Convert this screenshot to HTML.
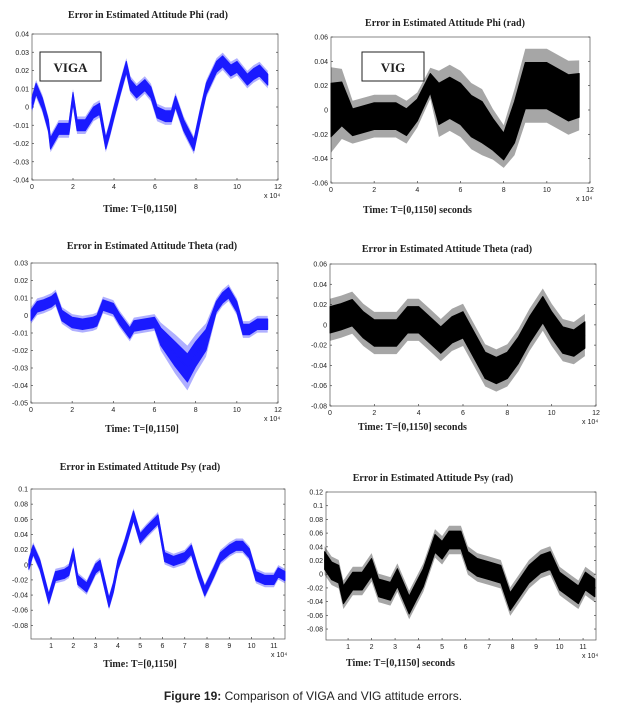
<!DOCTYPE html>
<html><head><meta charset="utf-8">
<style>
body{margin:0;background:#fff;width:627px;height:714px;overflow:hidden;}
svg{display:block;}
.tt{font-family:"Liberation Serif",serif;font-weight:bold;font-size:10px;fill:#222;}
.tk{font-family:"Liberation Sans",sans-serif;font-size:7px;fill:#222;}
.xl{font-family:"Liberation Serif",serif;font-weight:bold;font-size:10px;fill:#222;}
</style></head>
<body>
<svg id="fig" width="627" height="714">
<text x="313" y="700" text-anchor="middle" style="font-family:'Liberation Sans',sans-serif;font-size:12px;fill:#222"><tspan font-weight="bold">Figure 19:</tspan> Comparison of VIGA and VIG attitude errors.</text>
</svg>
<script>
// Panel 1: Phi VIGA
const p1X=[0,0.2,0.5,0.8,0.9,1.3,1.8,2.0,2.2,2.6,3.0,3.3,3.6,3.8,4.0,4.3,4.6,4.8,5.1,5.5,5.8,6.1,6.5,6.8,7.0,7.4,7.9,8.2,8.5,9.0,9.3,9.7,10.0,10.5,10.8,11.1,11.5];
const p1Y=[0.002,0.010,0.002,-0.010,-0.020,-0.012,-0.012,0.005,-0.010,-0.010,-0.003,-0.001,-0.020,-0.012,-0.003,0.010,0.022,0.012,0.008,0.012,0.008,-0.003,-0.005,-0.005,0.003,-0.010,-0.021,-0.005,0.010,0.022,0.025,0.020,0.022,0.015,0.018,0.020,0.015];
const p1A=[0.003];
// Panel 2: Phi VIG
const p2X=[0,0.5,1,2,3,3.5,4,4.6,5,5.5,6,6.5,7,7.5,8,8.5,9,10,11,11.5];
const p2Y=[0.0,0.005,-0.01,-0.005,-0.005,-0.01,0.0,0.022,0.005,0.01,0.005,-0.005,-0.01,-0.02,-0.03,-0.01,0.02,0.02,0.01,0.012];
const p2A=[0.022,0.018,0.011,0.011,0.011,0.011,0.009,0.008,0.017,0.017,0.017,0.017,0.017,0.013,0.011,0.017,0.019,0.019,0.019,0.018];
// Panel 3: Theta VIGA
const p3X=[0,0.3,0.6,1.0,1.2,1.5,2,2.5,3,3.2,3.5,4,4.3,4.8,5,5.5,6,6.3,7,7.6,8,8.5,9,9.3,9.6,10,10.3,10.6,11,11.5];
const p3Y=[0.0,0.005,0.006,0.008,0.01,0.0,-0.004,-0.005,-0.004,-0.003,0.006,0.004,-0.002,-0.01,-0.006,-0.005,-0.004,-0.012,-0.022,-0.03,-0.022,-0.014,0.005,0.01,0.013,0.005,-0.008,-0.008,-0.005,-0.005];
const p3A=[0.003,0.003,0.003,0.003,0.003,0.003,0.003,0.003,0.003,0.003,0.003,0.003,0.003,0.003,0.003,0.003,0.003,0.005,0.007,0.008,0.007,0.006,0.003,0.003,0.003,0.003,0.003,0.003,0.003,0.003];
// Panel 4: Theta VIG
const p4X=[0,0.5,1,1.5,2,3,3.5,4,4.5,5,5.5,6,6.5,7,7.5,8,8.5,9,9.6,10,10.5,11,11.5];
const p4Y=[0.005,0.008,0.012,0.0,-0.008,-0.008,0.005,0.005,-0.005,-0.015,-0.005,0.0,-0.02,-0.04,-0.045,-0.04,-0.025,-0.005,0.015,0.0,-0.015,-0.018,-0.01];
const p4A=[0.013];
// Panel 5: Psy VIGA
const p5X=[0,0.2,0.5,0.9,1.2,1.6,1.8,2.0,2.2,2.6,3.0,3.2,3.6,3.8,4.0,4.3,4.7,5.0,5.3,5.8,6.1,6.5,7.0,7.3,7.6,7.9,8.3,8.6,9.0,9.3,9.6,9.9,10.2,10.6,11,11.2,11.5];
const p5Y=[0.0,0.02,0.0,-0.045,-0.015,-0.012,-0.008,0.015,-0.02,-0.03,-0.005,0.0,-0.05,-0.03,0.0,0.025,0.065,0.035,0.045,0.06,0.01,0.005,0.01,0.02,-0.01,-0.035,-0.01,0.01,0.02,0.025,0.025,0.015,-0.015,-0.02,-0.02,-0.01,-0.015];
const p5A=[0.006];
// Panel 6: Psy VIG
const p6X=[0,0.3,0.6,0.8,1.2,1.6,2.0,2.3,2.8,3.1,3.6,3.9,4.2,4.7,5.0,5.3,5.8,6.1,6.5,7,7.5,7.9,8.3,8.7,9.2,9.6,10,10.4,10.8,11.1,11.5];
const p6Y=[0.02,0.005,0.0,-0.03,-0.01,-0.01,0.01,-0.02,-0.025,-0.005,-0.045,-0.025,-0.005,0.045,0.035,0.05,0.05,0.02,0.01,0.005,0.0,-0.04,-0.02,0.0,0.015,0.02,-0.01,-0.02,-0.03,-0.01,-0.02];
const p6A=[0.013];

const ticks1X=['0','2','4','6','8','10','12'];
const ticks2X=['1','2','3','4','5','6','7','8','9','10','11'];
const yt1=['-0.04','-0.03','-0.02','-0.01','0','0.01','0.02','0.03','0.04'];
const yt2=['-0.06','-0.04','-0.02','0','0.02','0.04','0.06'];
const yt3=['-0.05','-0.04','-0.03','-0.02','-0.01','0','0.01','0.02','0.03'];
const yt4=['-0.08','-0.06','-0.04','-0.02','0','0.02','0.04','0.06'];
const yt5=['-0.08','-0.06','-0.04','-0.02','0','0.02','0.04','0.06','0.08','0.1'];
const yt6=['-0.08','-0.06','-0.04','-0.02','0','0.02','0.04','0.06','0.08','0.1','0.12'];

const NS='http://www.w3.org/2000/svg';
const svg=document.getElementById('fig');
function mk(tag,attrs,parent){const e=document.createElementNS(NS,tag);for(const k in attrs)e.setAttribute(k,attrs[k]);(parent||svg).appendChild(e);return e;}

function panel(o){
  const g=mk('g',{});
  
  
  const sx=v=>o.L+(v-o.x0)/(o.x1-o.x0)*(o.R-o.L);
  const sy=v=>o.B-(v-o.y0)/(o.y1-o.y0)*(o.B-o.T);
  const fr=mk('rect',{x:o.L,y:o.T,width:o.R-o.L,height:o.B-o.T,fill:'none',stroke:'#555','stroke-width':0.7},g);
  
  
  o.yt.forEach(s=>{
    const y=sy(parseFloat(s));
    mk('line',{x1:o.L,x2:o.L+2,y1:y,y2:y,stroke:'#444','stroke-width':0.7},g);
    mk('line',{x1:o.R,x2:o.R-2,y1:y,y2:y,stroke:'#444','stroke-width':0.7},g);
    const t=mk('text',{x:o.L-3,y:y+2.5,'text-anchor':'end',class:'tk'},g);
    t.textContent=s;
    
    
  });
  o.xt.forEach(s=>{
    const x=sx(parseFloat(s));
    mk('line',{x1:x,x2:x,y1:o.B,y2:o.B-2,stroke:'#444','stroke-width':0.7},g);
    const t=mk('text',{x:x,y:o.B+9,'text-anchor':'middle',class:'tk'},g);
    t.textContent=s;
    
    
  });
  const ex=mk('text',{x:o.R-14,y:o.B+18,class:'tk','font-size':'5px'},g);
  ex.textContent='x 10⁴';
  
  
  const n=o.X.length;
  function bandPts(k){let up=[],lo=[];
    for(let i=0;i<n;i++){const a=(o.A.length>1?o.A[i]:o.A[0])*k;up.push(sx(o.X[i]).toFixed(1)+','+sy(o.Y[i]+a).toFixed(1));lo.unshift(sx(o.X[i]).toFixed(1)+','+sy(o.Y[i]-a).toFixed(1));}
    return up.concat(lo).join(' ');}
  const outer=mk('polygon',{points:bandPts(1.6),fill:o.c,'fill-opacity':0.35,stroke:'none'},g);
  
  
  const band=mk('polygon',{points:bandPts(1),fill:o.c,stroke:o.c,'stroke-width':1,'stroke-linejoin':'round'},g);
  
  
  const line=mk('polyline',{points:o.X.map((x,i)=>sx(x).toFixed(1)+','+sy(o.Y[i]).toFixed(1)).join(' '),fill:'none',stroke:o.c,'stroke-width':1.5},g);
  
  
  const tt=mk('text',{x:o.tx,y:o.ty,'text-anchor':'middle',class:'tt'},g);
  tt.textContent=o.title;
  
  
  const xl=mk('text',{x:o.lx,y:o.ly,'text-anchor':o.la,class:'xl'},g);
  xl.textContent=o.xlab;
  
  
  if(o.box){
    const b=mk('rect',{x:o.box[0],y:o.box[1],width:o.box[2],height:o.box[3],fill:'#fff',stroke:'#222','stroke-width':1},g);
    
    
    const bt=mk('text',{x:o.box[0]+o.box[2]/2,y:o.box[1]+20,'text-anchor':'middle',style:"font-family:'Liberation Serif',serif;font-weight:bold;font-size:13px;fill:#222"},g);
    bt.textContent=o.boxt;
    
    
  }
}
panel({name:'phi-viga-chart',L:32,R:278,T:34,B:180,x0:0,x1:12,y0:-0.04,y1:0.04,yt:yt1,xt:ticks1X,X:p1X,Y:p1Y,A:p1A,c:'#1a1aff',title:'Error in Estimated Attitude Phi (rad)',tx:148,ty:18,xlab:'Time: T=[0,1150]',lx:140,ly:212,la:'middle',box:[40,52,61,29],boxt:'VIGA'});
panel({name:'phi-vig-chart',L:331,R:590,T:37,B:183,x0:0,x1:12,y0:-0.06,y1:0.06,yt:yt2,xt:ticks1X,X:p2X,Y:p2Y,A:p2A,c:'#000',title:'Error in Estimated Attitude Phi (rad)',tx:445,ty:26,xlab:'Time: T=[0,1150] seconds',lx:363,ly:213,la:'start',box:[362,52,62,29],boxt:'VIG'});
panel({name:'theta-viga-chart',L:31,R:278,T:263,B:403,x0:0,x1:12,y0:-0.05,y1:0.03,yt:yt3,xt:ticks1X,X:p3X,Y:p3Y,A:p3A,c:'#1a1aff',title:'Error in Estimated Attitude Theta (rad)',tx:152,ty:249,xlab:'Time: T=[0,1150]',lx:142,ly:432,la:'middle'});
panel({name:'theta-vig-chart',L:330,R:596,T:264,B:406,x0:0,x1:12,y0:-0.08,y1:0.06,yt:yt4,xt:ticks1X,X:p4X,Y:p4Y,A:p4A,c:'#000',title:'Error in Estimated Attitude Theta (rad)',tx:447,ty:252,xlab:'Time: T=[0,1150] seconds',lx:358,ly:430,la:'start'});
panel({name:'psy-viga-chart',L:31,R:285,T:489,B:639,x0:0.1,x1:11.5,y0:-0.098,y1:0.1,yt:yt5,xt:ticks2X,X:p5X,Y:p5Y,A:p5A,c:'#1a1aff',title:'Error in Estimated Attitude Psy (rad)',tx:140,ty:470,xlab:'Time: T=[0,1150]',lx:140,ly:667,la:'middle'});
panel({name:'psy-vig-chart',L:326,R:596,T:492,B:640,x0:0.06,x1:11.55,y0:-0.096,y1:0.12,yt:yt6,xt:ticks2X,X:p6X,Y:p6Y,A:p6A,c:'#000',title:'Error in Estimated Attitude Psy (rad)',tx:433,ty:481,xlab:'Time: T=[0,1150] seconds',lx:346,ly:666,la:'start'});
</script>
</body></html>
